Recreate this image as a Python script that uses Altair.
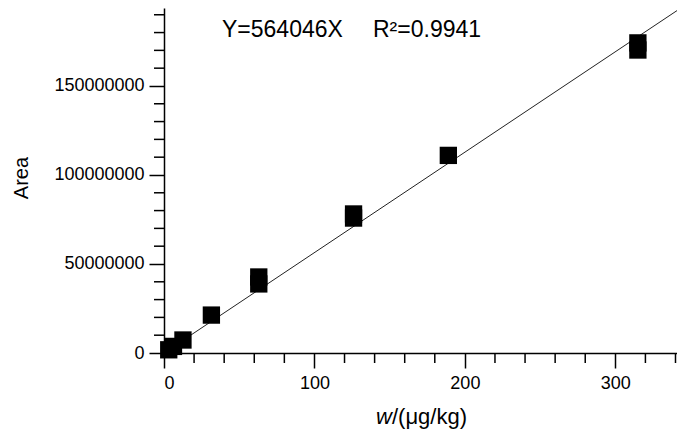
import altair as alt
import pandas as pd

# Data
conc = [3.15, 6.3, 12.6, 31.5, 63, 63, 126, 126, 189, 315, 315]
area = [1.8e6, 3.7e6, 7.3e6, 21.3e6, 38.8e6, 42.7e6, 75.8e6, 78.1e6, 111.0e6, 170.2e6, 174.2e6]
slope = 564046
fit_x = [0, 341]
x_major = [0, 100, 200, 300]
x_minor = [20, 40, 60, 80, 120, 140, 160, 180, 220, 240, 260, 280, 320, 340]
y_major = [0, 50000000, 100000000, 150000000]
y_minor = [10e6, 20e6, 30e6, 40e6, 60e6, 70e6, 80e6, 90e6, 110e6, 120e6, 130e6, 140e6,
           160e6, 170e6, 180e6, 190e6]
equation = "Y=564046X"
r2_text = "R\u00b2=0.9941"

W, H = 513, 345
FONT = "Liberation Sans"

xs = alt.Scale(domain=[0, 341], nice=False, zero=False)
ys = alt.Scale(domain=[0, 193.8e6], nice=False, zero=False)

pts = pd.DataFrame({"x": conc, "y": area})
fit = pd.DataFrame({"x": fit_x})

line = alt.Chart(fit).transform_calculate(
    y=f"datum.x * {slope}"
).mark_line(color="#222222", strokeWidth=1, clip=True).encode(
    x=alt.X("x:Q", scale=xs,
            axis=alt.Axis(values=x_major, title=None, tickSize=15, labelPadding=6,
                          grid=False, format="d")),
    y=alt.Y("y:Q", scale=ys,
            axis=alt.Axis(values=y_major, title=None, tickSize=15, labelPadding=5,
                          grid=False, format="d")),
)

squares = alt.Chart(pts).mark_square(size=300, color="black", opacity=1, filled=True).encode(
    x=alt.X("x:Q", scale=xs), y=alt.Y("y:Q", scale=ys)
)

xminor = alt.Chart(pd.DataFrame({"v": x_minor})).mark_rule(
    color="black", strokeWidth=1.5, clip=False
).encode(x=alt.X("v:Q", scale=xs), y=alt.value(H), y2=alt.value(H + 10))

yminor = alt.Chart(pd.DataFrame({"v": y_minor})).mark_rule(
    color="black", strokeWidth=1.5, clip=False
).encode(y=alt.Y("v:Q", scale=ys), x=alt.value(0), x2=alt.value(-10))

eq1 = alt.Chart(pd.DataFrame({"t": [equation]})).mark_text(
    font=FONT, fontSize=23, align="left", baseline="alphabetic", color="black"
).encode(text="t:N", x=alt.value(58), y=alt.value(29))

eq2 = alt.Chart(pd.DataFrame({"t": [r2_text]})).mark_text(
    font=FONT, fontSize=23, align="left", baseline="alphabetic", color="black"
).encode(text="t:N", x=alt.value(209), y=alt.value(29))

ytitle = alt.Chart(pd.DataFrame({"t": ["Area"]})).mark_text(
    font=FONT, fontSize=20, align="center", baseline="middle", angle=270, color="black"
).encode(text="t:N", x=alt.value(-142), y=alt.value(170))

xt1 = alt.Chart(pd.DataFrame({"t": ["w"]})).mark_text(
    font=FONT, fontSize=22, fontStyle="italic", align="right", baseline="alphabetic", color="black"
).encode(text="t:N", x=alt.value(228), y=alt.value(416))

xt2 = alt.Chart(pd.DataFrame({"t": ["/(\u03bcg/kg)"]})).mark_text(
    font=FONT, fontSize=22, align="left", baseline="alphabetic", color="black"
).encode(text="t:N", x=alt.value(228), y=alt.value(416))

chart = alt.layer(line, squares, xminor, yminor, eq1, eq2, ytitle, xt1, xt2).properties(
    width=W, height=H,
    padding={"left": 156, "top": 0, "right": 0, "bottom": 78},
    autosize=alt.AutoSizeParams(type="none"),
    background="white",
).configure_view(stroke=None).configure_axis(
    domainColor="black", domainWidth=1.5, tickColor="black", tickWidth=1.5,
    labelFont=FONT, labelFontSize=18, labelColor="black",
)

chart.save("out.html", embed_options={"renderer": "svg", "actions": False})
